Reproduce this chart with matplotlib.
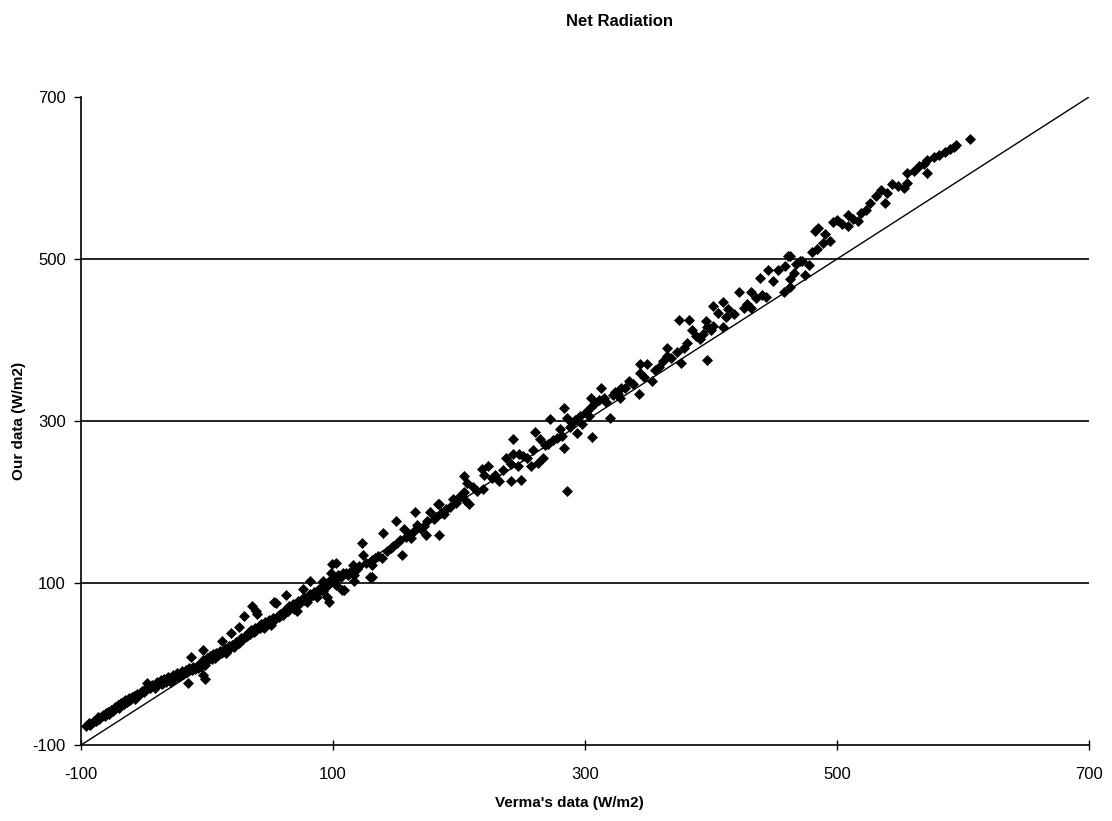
import matplotlib.pyplot as plt
import numpy as np

plt.rcParams['font.family'] = ['Liberation Sans', 'DejaVu Sans']
plt.rcParams['axes.unicode_minus'] = False

# Verma's data (W/m2) / our data (W/m2)
# (corrected for the skew of the scan)
verma = [
    -96, -94, -93, -91, -90, -88, -87, -86, -84, -83, -81, -80, -79, -78, -76, -75,
    -74, -73, -71, -70, -69, -68, -66, -65, -64, -62, -61, -60, -58, -57, -56, -54,
    -53, -52, -50, -49, -48, -47, -45, -44, -42, -41, -40, -38, -37, -36, -34, -33,
    -31, -30, -29, -27, -26, -24, -23, -22, -20, -19, -17, -16, -15, -14, -13, -12,
    -11, -10, -8, -7, -6, -5, -3, -3, -2, -3, -3, -2, -1, 0, 1, 2,
    4, 5, 6, 7, 9, 10, 11, 12, 13, 14, 15, 16, 17, 18, 19, 20,
    21, 22, 23, 25, 25, 26, 27, 28, 29, 30, 31, 32, 33, 34, 35, 36,
    37, 38, 39, 39, 40, 41, 42, 43, 44, 45, 46, 47, 49, 50, 51, 52,
    53, 53, 54, 55, 56, 57, 58, 59, 60, 61, 62, 63, 64, 65, 66, 67,
    68, 69, 70, 71, 72, 73, 74, 75, 76, 77, 78, 79, 80, 81, 82, 82,
    84, 85, 86, 87, 88, 89, 90, 91, 92, 92, 94, 95, 96, 97, 97, 98,
    99, 100, 102, 102, 103, 104, 106, 107, 108, 109, 110, 112, 114, 116, 117, 117,
    119, 121, 123, 124, 126, 129, 131, 131, 131,
    133, 136, 139, 140, 143, 146, 148, 151, 150, 153, 155, 156, 158, 160, 162, 164,
    165, 167, 170, 172, 174, 175, 177, 180, 182, 183, 184, 184, 186, 188, 190, 193,
    195, 198, 201, 204, 205, 204, 206, 208, 211, 214, 219, 218, 220, 223, 226, 229,
    232, 235, 237, 241, 241, 243, 243, 247, 248, 249, 251, 254, 257, 259, 260, 263,
    264, 267, 268, 271, 272, 275, 278, 280, 283, 282, 286, 283, 286, 288, 290, 292,
    294, 296, 298, 301, 303, 305, 306, 305, 308, 311, 313, 315, 317, 320, 322, 324,
    326, 328, 329, 332, 335, 338, 343, 344, 344, 347, 349, 353, 356, 359, 362, 365,
    365, 368, 373, 376, 375, 379, 381, 383, 385, 388, 391, 394, 396, 397, 397, 400,
    402, 402, 406, 410, 410, 412, 414, 418, 422, 426, 429, 432, 432, 436, 439, 441,
    444, 445, 449, 453, 458, 459, 461, 463, 463, 463, 466, 468, 471, 472, 475, 478,
    480, 484, 483, 485, 489, 491, 495, 497, 500, 504, 509, 509, 513, 517, 519, 523,
    526, 531, 535, 538, 540, 544, 549, 553, 556, 556, 561, 565, 569, 572, 572, 577,
    581, 586, 590, 593, 595, 606,
]
ours = [
    -76, -73, -75, -72, -71, -70, -66, -68, -65, -63, -64, -61, -59, -62, -57, -58,
    -55, -53, -51, -54, -50, -48, -49, -44, -47, -42, -45, -41, -39, -43, -37, -38,
    -36, -33, -35, -31, -23, -29, -30, -26, -27, -30, -22, -24, -20, -25, -19, -22,
    -16, -18, -22, -14, -17, -11, -16, -13, -9, -12, -7, -10, -23, -5, 9, -8,
    -4, -6, -2, -5, 0, -4, 17, 2, -1, -14, 5, -18, 3, 8, 5, 10,
    6, 12, 7, 14, 11, 16, 13, 29, 15, 19, 14, 17, 22, 20, 38, 24,
    21, 23, 27, 46, 26, 28, 32, 30, 59, 33, 36, 34, 39, 37, 42, 72,
    40, 44, 65, 42, 62, 47, 45, 50, 48, 44, 52, 49, 54, 51, 48, 57,
    77, 54, 56, 75, 59, 58, 62, 60, 60, 64, 67, 85, 66, 72, 69, 70,
    74, 68, 73, 65, 78, 76, 75, 80, 93, 79, 82, 77, 84, 81, 87, 102,
    85, 89, 88, 83, 92, 90, 94, 91, 90, 102, 96, 83, 98, 77, 102, 113,
    123, 104, 98, 125, 106, 110, 108, 92, 112, 91, 113, 110, 115, 122, 103, 110,
    117, 121, 150, 135, 125, 107, 122, 107, 129,
    131, 134, 131, 162, 140, 143, 146, 150, 177, 153, 135, 167, 157, 161, 155, 164,
    188, 172, 167, 170, 159, 176, 188, 179, 182, 198, 159, 198, 187, 185, 192, 194,
    204, 199, 207, 213, 203, 232, 223, 197, 218, 214, 216, 241, 234, 244, 230, 233,
    226, 239, 254, 226, 247, 259, 278, 245, 259, 227, 257, 255, 245, 264, 286, 248,
    278, 254, 270, 272, 303, 277, 279, 290, 267, 282, 214, 316, 304, 293, 298, 301,
    285, 306, 296, 311, 306, 317, 280, 329, 322, 326, 341, 328, 324, 304, 332, 336,
    334, 328, 341, 341, 350, 346, 334, 359, 371, 355, 370, 350, 363, 367, 374, 390,
    381, 378, 385, 372, 425, 390, 397, 425, 413, 405, 401, 408, 423, 416, 376, 412,
    417, 442, 433, 447, 416, 428, 438, 432, 459, 440, 444, 460, 440, 452, 477, 456,
    453, 486, 473, 486, 460, 492, 504, 476, 466, 504, 483, 494, 498, 498, 480, 493,
    509, 513, 535, 538, 520, 531, 522, 546, 548, 543, 541, 554, 549, 547, 557, 561,
    569, 578, 585, 569, 582, 593, 590, 588, 594, 607, 609, 615, 618, 623, 607, 626,
    629, 632, 636, 638, 641, 648,
]
ticks = [-100, 100, 300, 500, 700]
lims = [-100, 700]

fig = plt.figure(figsize=(11.12, 8.21), dpi=100)
ax = fig.add_axes([0.073, 0.0926, 0.906, 0.789])

# lignes horizontales (pas a -100 ni a 700)
for y in ticks[1:-1]:
    ax.axhline(y, color='black', lw=1.2, zorder=1)

# droite 1:1
ax.plot(lims, lims, color='black', lw=1.0, zorder=2)

ax.plot(verma, ours, linestyle='none', marker='D', ms=4.8, color='black',
        mec='black', mew=0.5, zorder=3)

ax.set_xlim(lims)
ax.set_ylim(lims)
ax.set_xticks(ticks)
ax.set_yticks(ticks)
ax.tick_params(axis='y', direction='out', length=5, width=1, labelsize=12, pad=6)
ax.tick_params(axis='x', direction='inout', length=7, width=1, labelsize=12, pad=12)

for s in ['top', 'right']:
    ax.spines[s].set_visible(False)
for s in ['left', 'bottom']:
    ax.spines[s].set_linewidth(1.2)

ax.set_xlabel("Verma's data (W/m2)", fontsize=11, fontweight='bold')
ax.xaxis.set_label_coords((569 - 81) / 1008, -0.078)
ax.set_ylabel("Our data (W/m2)", fontsize=11, fontweight='bold')
ax.yaxis.set_label_coords(-0.055, 0.5)

fig.text(620 / 1112, 1 - 22 / 821, 'Net Radiation', ha='center', va='center',
         fontsize=12, fontweight='bold')

fig.savefig('out.png', dpi=100)
